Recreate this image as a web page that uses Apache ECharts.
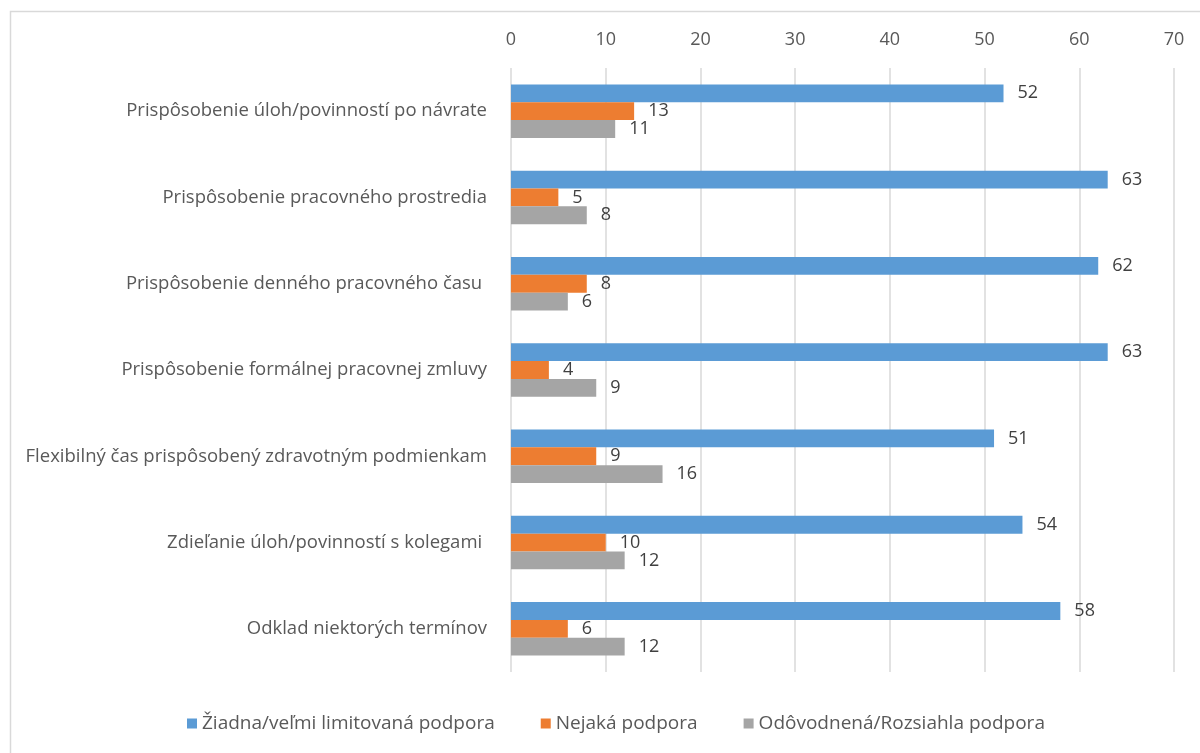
<!DOCTYPE html>
<html><head><meta charset="utf-8">
<script src="https://cdn.jsdelivr.net/npm/echarts@6/dist/echarts.min.js"></script>
<style>html,body{margin:0;padding:0;background:#fff}#c{width:1200px;height:753px}</style>
</head><body><div id="c"></div>
<script>
var categories = [
  "Prispôsobenie úloh/povinností po návrate",
  "Prispôsobenie pracovného prostredia",
  "Prispôsobenie denného pracovného času ",
  "Prispôsobenie formálnej pracovnej zmluvy",
  "Flexibilný čas prispôsobený zdravotným podmienkam",
  "Zdieľanie úloh/povinností s kolegami ",
  "Odklad niektorých termínov"
];
var seriesNames = ["Žiadna/veľmi limitovaná podpora", "Nejaká podpora", "Odôvodnená/Rozsiahla podpora"];
var noneLimited = [52, 63, 62, 63, 51, 54, 58];
var some = [13, 5, 8, 4, 9, 10, 6];
var extensive = [11, 8, 6, 9, 16, 12, 12];
var colors = ["#5B9BD5", "#ED7D31", "#A5A5A5"];
var font = "Open Sans";
var fs = 18;
var fsCat = 18.5;
var chart = echarts.init(document.getElementById('c'));
function mk(name, data, color) {
  return {
    name: name, type: 'bar', data: data, barGap: '0%', barCategoryGap: '38%',
    itemStyle: {color: color},
    label: {show: true, position: 'right', distance: 14, color: '#404040', fontSize: fs, fontFamily: font},
    emphasis: {disabled: true}
  };
}
chart.setOption({
  animation: false,
  textStyle: {fontFamily: font},
  graphic: [{type: 'rect', shape: {x: 10.5, y: 11.5, width: 1300, height: 900}, style: {fill: 'none', stroke: '#d9d9d9', lineWidth: 1.5}, silent: true}],
  grid: {left: 511, right: 26, top: 68, bottom: 81, containLabel: false},
  legend: {
    top: 709, left: 182, itemWidth: 10, itemHeight: 10, itemGap: 46, icon: 'rect',
    textStyle: {color: '#595959', fontSize: 19, fontFamily: font},
    data: seriesNames
  },
  xAxis: {
    type: 'value', position: 'top', min: 0, max: 70, interval: 10,
    axisLine: {show: false}, axisTick: {show: false},
    axisLabel: {color: '#595959', fontSize: fs, margin: 19, fontFamily: font},
    splitLine: {lineStyle: {color: '#d9d9d9', width: 1.5}}
  },
  yAxis: {
    type: 'category', data: categories, inverse: true,
    axisLine: {show: false}, axisTick: {show: false},
    axisLabel: {color: '#595959', fontSize: fsCat, margin: 24, fontFamily: font}
  },
  series: [mk(seriesNames[0], noneLimited, colors[0]), mk(seriesNames[1], some, colors[1]), mk(seriesNames[2], extensive, colors[2])]
});
</script></body></html>
